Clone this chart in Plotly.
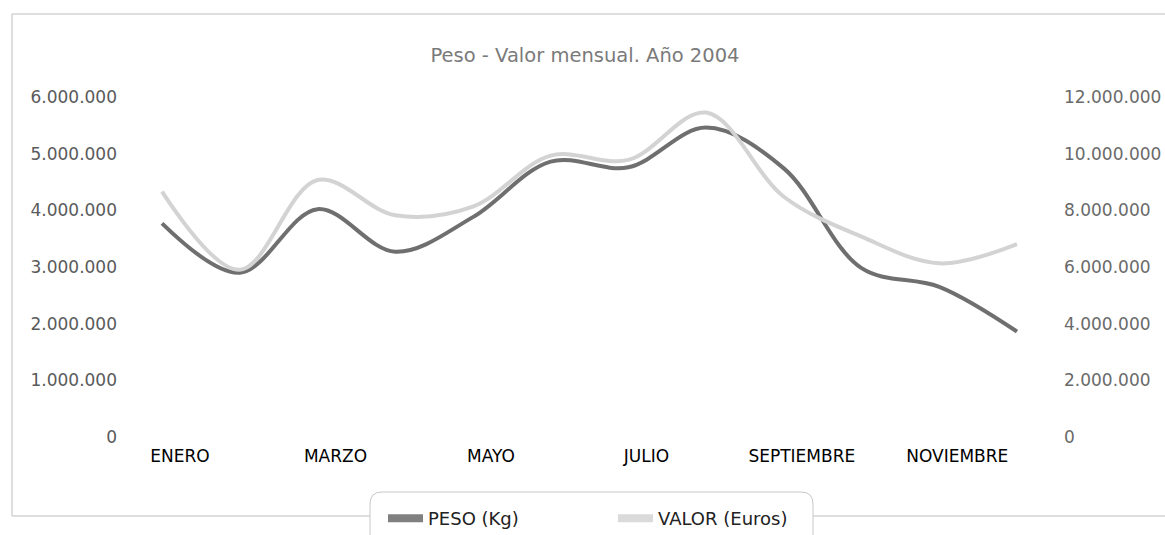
import plotly.graph_objects as go

months = ["ENERO", "FEBRERO", "MARZO", "ABRIL", "MAYO", "JUNIO", "JULIO",
          "AGOSTO", "SEPTIEMBRE", "OCTUBRE", "NOVIEMBRE", "DICIEMBRE"]
peso_kg = [3770000, 2900000, 4020000, 3270000, 3880000, 4860000, 4760000,
           5460000, 4740000, 2980000, 2650000, 1860000]
valor_euros = [8660000, 5900000, 9070000, 7830000, 8130000, 9930000, 9780000,
               11450000, 8480000, 7070000, 6130000, 6810000]
label_months = ["ENERO", "MARZO", "MAYO", "JULIO", "SEPTIEMBRE", "NOVIEMBRE"]
left_ticks = [0, 1000000, 2000000, 3000000, 4000000, 5000000, 6000000]
right_ticks = [0, 2000000, 4000000, 6000000, 8000000, 10000000, 12000000]

DARK = "#6f6f6f"
LIGHT = "#d3d3d3"
FONT = "DejaVu Sans"

fig = go.Figure()
fig.add_trace(go.Scatter(x=months, y=valor_euros, yaxis="y2", mode="lines",
                         line=dict(color=LIGHT, width=4, shape="spline", smoothing=1.0),
                         showlegend=False, hoverinfo="skip"))
fig.add_trace(go.Scatter(x=months, y=peso_kg, mode="lines",
                         line=dict(color=DARK, width=4, shape="spline", smoothing=1.0),
                         showlegend=False, hoverinfo="skip"))
# legend entries (thicker swatches)
fig.add_trace(go.Scatter(x=[None], y=[None], mode="lines", name="PESO (Kg)",
                         line=dict(color="#808080", width=8)))
fig.add_trace(go.Scatter(x=[None], y=[None], mode="lines", name="VALOR (Euros)",
                         line=dict(color="#dadada", width=8)))

L, R, T, B = 122, 107, 97, 98
W, H = 1165, 535
pw = W - L - R
ph = H - T - B
step = 855 / 11.0
x0_idx = -(162 - L) / step
x1_idx = 11 + ((W - R) - 1017) / step


def px_x(p):
    return (p - L) / pw


def px_y(p):
    return (H - B - p) / ph


def rounded_box(xa, ya, xb, yb, r):
    def P(x, y):
        return f"{px_x(x):.5f},{px_y(y):.5f}"
    return (f"M {P(xa + r, ya)} L {P(xb - r, ya)} Q {P(xb, ya)} {P(xb, ya + r)} "
            f"L {P(xb, yb - r)} Q {P(xb, yb)} {P(xb - r, yb)} "
            f"L {P(xa + r, yb)} Q {P(xa, yb)} {P(xa, yb - r)} "
            f"L {P(xa, ya + r)} Q {P(xa, ya)} {P(xa + r, ya)} Z")


frame_col = "#bdbdbd"
fig.update_layout(
    width=W, height=H,
    margin=dict(l=L, r=R, t=T, b=B, autoexpand=False),
    paper_bgcolor="white", plot_bgcolor="white",
    separators=",.",
    font=dict(family=FONT, color="#555555"),
    title=dict(text="Peso - Valor mensual. Año 2004", x=585 / W, xref="container",
               y=1 - 55 / H, yref="container", xanchor="center", yanchor="middle",
               font=dict(family=FONT, size=19.5, color="#7a7a7a")),
    xaxis=dict(type="category", categoryorder="array", categoryarray=months,
               range=[x0_idx, x1_idx], showgrid=False, zeroline=False, showline=False,
               ticks="", tickmode="array", tickvals=label_months, ticktext=label_months,
               ticklabelshift=18, ticklabelstandoff=7,
               tickfont=dict(family=FONT, size=17, color="#000000")),
    yaxis=dict(range=[0, 6000000], tickvals=left_ticks, tickformat=",d",
               showgrid=False, zeroline=False, showline=False, ticks="",
               ticklabelstandoff=4,
               tickfont=dict(family=FONT, size=17, color="#5a5a5a")),
    yaxis2=dict(range=[0, 12000000], tickvals=right_ticks, tickformat=",d",
                overlaying="y", side="right", showgrid=False, zeroline=False,
                showline=False, ticks="", ticklabelstandoff=5,
                tickfont=dict(family=FONT, size=17, color="#6a6a6a")),
    legend=dict(orientation="h", xref="container", yref="container",
                x=383 / W, y=1 - 500 / H, xanchor="left", yanchor="top",
                bgcolor="rgba(0,0,0,0)", borderwidth=0, itemwidth=35,
                entrywidth=180, entrywidthmode="pixels",
                font=dict(family=FONT, size=18, color="#222222")),
    shapes=[
        dict(type="line", xref="paper", yref="paper", x0=px_x(12), x1=px_x(1165),
             y0=px_y(14), y1=px_y(14), line=dict(color=frame_col, width=1)),
        dict(type="line", xref="paper", yref="paper", x0=px_x(12), x1=px_x(12),
             y0=px_y(14), y1=px_y(516), line=dict(color=frame_col, width=1)),
        dict(type="line", xref="paper", yref="paper", x0=px_x(12), x1=px_x(1165),
             y0=px_y(516), y1=px_y(516), line=dict(color=frame_col, width=1)),
        dict(type="path", xref="paper", yref="paper",
             path=rounded_box(370, 492, 813, 560, 12),
             fillcolor="white", line=dict(color="#c8c8c8", width=1)),
    ],
)

fig.write_html("out.html", config={"displayModeBar": False},
               post_script="document.body.style.margin='0';")
